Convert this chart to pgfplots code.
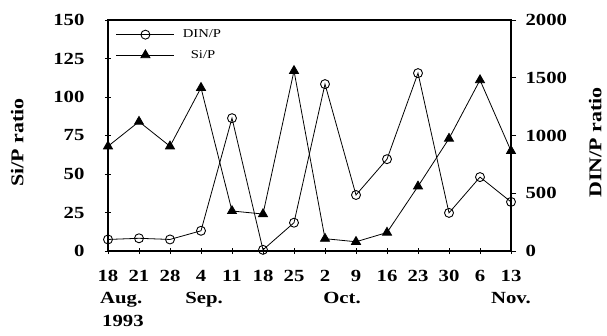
\documentclass[border=0pt]{standalone}
\usepackage{fontspec}
\setmainfont{Liberation Serif}[FakeStretch=1.22]
\usepackage{pgfplots}
\pgfplotsset{compat=1.18}
\begin{document}
\begin{tikzpicture}
\pgfplotsset{
  every axis/.append style={
    scale only axis, width=403bp, height=231bp,
    xmin=0, xmax=13,
    /pgf/number format/assume math mode=true,
    /pgf/number format/1000 sep={},
    tick style={black, line width=0.9pt},
    axis line style={line width=1.2pt},
    font=\fontsize{17bp}{19bp}\selectfont\bfseries,
    label style={font=\fontsize{18bp}{20bp}\selectfont\bfseries},
  }
}
\begin{axis}[
  ymin=0, ymax=150,
  ytick={0,25,...,150},
  xtick={0,...,13},
  xticklabels={18,21,28,4,11,18,25,2,9,16,23,30,6,13},
  xtick pos=bottom, ytick pos=left,
  tick align=center, major tick length=6bp,
  yticklabel style={xshift=-17bp},
  xticklabel style={yshift=-13bp},
  ylabel={Si/P ratio},
  ylabel style={yshift=23bp, xshift=-7bp},
  clip=false,
  legend style={draw=none, fill=none, at={(rel axis cs:0.012,0.975)}, anchor=north west,
    font=\fontsize{12bp}{14bp}\selectfont, row sep=7bp, cells={anchor=west}},
  legend image code/.code={\draw[mark repeat=2,mark phase=2,#1] plot coordinates {(0bp,0bp) (29bp,0bp) (58bp,0bp)};},
]
\addlegendimage{black, line width=0.8pt, mark=o, mark size=4.5bp, mark options={fill=white, line width=0.9pt}}
\addlegendentry{\hspace{6bp}DIN/P}
\addplot[black, line width=0.8pt, mark=triangle*, mark size=5.2bp, mark options={fill=black}]
  coordinates {(0,68) (1,84) (2,68) (3,106) (4,26) (5,24) (6,117) (7,8) (8,6) (9,12) (10,42) (11,73) (12,111) (13,65)};
\addlegendentry{\hspace{14bp}Si/P}
\node[anchor=north west, inner sep=0pt] at ([xshift=-8bp,yshift=-41bp]axis cs:0,0) {Aug.};
\node[anchor=north, inner sep=0pt] at ([xshift=3bp,yshift=-41bp]axis cs:3,0) {Sep.};
\node[anchor=north, inner sep=0pt] at ([yshift=-41bp]axis cs:7.55,0) {Oct.};
\node[anchor=north, inner sep=0pt] at ([yshift=-41bp]axis cs:13,0) {Nov.};
\node[anchor=north west, inner sep=0pt] at ([xshift=-6bp,yshift=-64bp]axis cs:0,0) {1993};
\end{axis}
\begin{axis}[
  ymin=0, ymax=2000,
  ytick={0,500,...,2000},
  axis y line*=right, axis x line=none,
  tick align=outside, major tick length=5bp,
  yticklabel style={xshift=6bp},
  ylabel={DIN/P ratio},
  ylabel style={yshift=-15bp, xshift=-7bp},
]
\addplot[black, line width=0.8pt, mark=o, mark size=4.5bp, mark options={fill=white, line width=0.9pt}]
  coordinates {(0,100) (1,110) (2,100) (3,175) (4,1150) (5,10) (6,245) (7,1445) (8,485) (9,795) (10,1540) (11,330) (12,640) (13,425)};
\end{axis}
\pgfresetboundingbox
\path[use as bounding box] ([xshift=-108bp,yshift=-85bp]current axis.south west) rectangle ++(607bp,336bp);
\end{tikzpicture}
\end{document}
